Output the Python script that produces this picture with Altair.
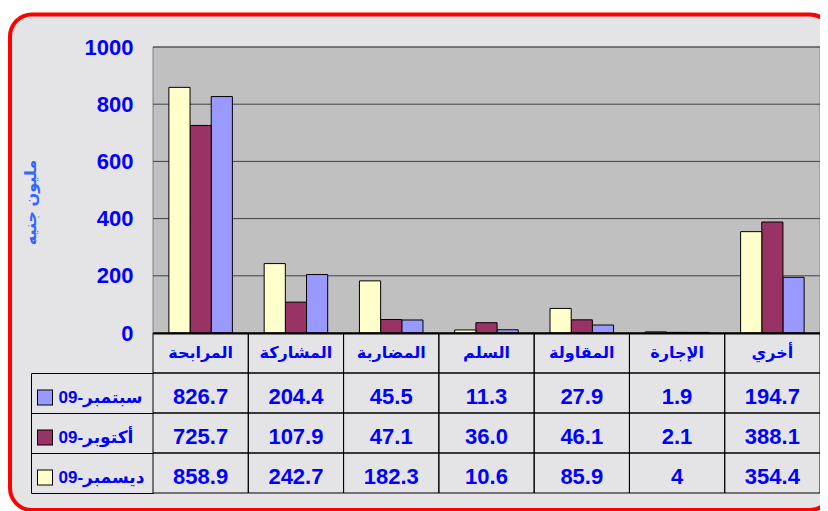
import altair as alt
import pandas as pd

# ---------------- data ----------------
categories = ["المرابحة", "المشاركة", "المضاربة", "السلم", "المقاولة", "الإجارة", "أخري"]
series_names = ["سبتمبر-09", "أكتوبر-09", "ديسمبر-09"]
sep_values = [826.7, 204.4, 45.5, 11.3, 27.9, 1.9, 194.7]
oct_values = [725.7, 107.9, 47.1, 36.0, 46.1, 2.1, 388.1]
dec_values = [858.9, 242.7, 182.3, 10.6, 85.9, 4, 354.4]
series_values = [sep_values, oct_values, dec_values]
series_colors = ["#9999FF", "#993366", "#FFFFCC"]
bar_order = ["ديسمبر-09", "أكتوبر-09", "سبتمبر-09"]
y_ticks = [0, 200, 400, 600, 800, 1000]
y_title = "مليون جنيه"

# ---------------- layout / style ----------------
PW, PH = 667, 286
TH = 160
NROWS = len(series_names) + 1
ROW_H = TH / NROWS
HEADER_W = 122
FONT = "Liberation Sans, Arial, DejaVu Sans"
BLUE = "#0000FF"
MARBLE = "#E4E4E6"
ORIGIN_X, ORIGIN_Y = 145, 39          # plot origin inside the svg
SVG_W, SVG_H = 812, 503

bar_rows = []
for s, vals in zip(series_names, series_values):
    for c, v in zip(categories, vals):
        bar_rows.append({"cat": c, "series": s, "value": v})
bar_df = pd.DataFrame(bar_rows)

color_scale = alt.Scale(domain=series_names, range=series_colors)
y_scale = alt.Scale(domain=[y_ticks[0], y_ticks[-1]], nice=False)
y_axis = alt.Axis(values=y_ticks, format="d", labelFont=FONT, labelFontSize=22,
                  labelFontWeight="bold", labelColor=BLUE, labelPadding=20,
                  ticks=False, domain=False, grid=False, zindex=1,
                  title=y_title, titleFont=FONT, titleFontSize=16,
                  titleFontWeight="bold", titleColor="#3366FF", titleAngle=270,
                  titleX=-122.5, titleY=155, titleAlign="center",
                  titleBaseline="middle")

# decorative rounded red frame (marble filled)
frame = alt.Chart(pd.DataFrame({"k": [0]})).mark_rect(
    fill=MARBLE, stroke="#FF0000", strokeWidth=4, cornerRadius=22
).encode(x=alt.value(-143), x2=alt.value(PW + 12), y=alt.value(-32.5), y2=alt.value(463))

# grey plot area
plot_bg = alt.Chart(pd.DataFrame({"lo": [y_ticks[0]], "hi": [y_ticks[-1]]})).mark_rect(
    fill="#C0C0C0", stroke="#808080", strokeWidth=1
).encode(x=alt.value(0), x2=alt.value(PW),
         y=alt.Y("lo:Q", scale=y_scale, axis=y_axis), y2="hi:Q")

grid = alt.Chart(pd.DataFrame({"t": y_ticks[1:]})).mark_rule(
    color="#404040", strokeWidth=1
).encode(y=alt.Y("t:Q", scale=y_scale, axis=y_axis))

bars = alt.Chart(bar_df).mark_bar(stroke="black", strokeWidth=1).encode(
    x=alt.X("cat:N", sort=categories,
            scale=alt.Scale(paddingInner=1 / 3, paddingOuter=1 / 6),
            axis=alt.Axis(labels=False, ticks=False, title=None, domainColor="black",
                          domainWidth=2, grid=False, zindex=1)),
    xOffset=alt.XOffset("series:N", sort=bar_order,
                        scale=alt.Scale(paddingInner=0, paddingOuter=0)),
    y=alt.Y("value:Q", scale=y_scale, axis=y_axis),
    color=alt.Color("series:N", scale=color_scale, legend=None),
)

top = alt.layer(frame, plot_bg, grid, bars).properties(width=PW, height=PH)

# ---------------- data table ----------------
cell_rows = []
for c in categories:
    cell_rows.append({"cat": c, "lo": 0, "hi": 1, "mid": 0.5, "text": c, "kind": "cat"})
for i, (s, vals) in enumerate(zip(series_names, series_values)):
    for c, v in zip(categories, vals):
        cell_rows.append({"cat": c, "lo": i + 1, "hi": i + 2, "mid": i + 1.5,
                          "text": str(v), "kind": "val"})
table_df = pd.DataFrame(cell_rows)

yscale = alt.Scale(domain=[0, NROWS], reverse=True, nice=False, zero=False)
xscale_t = alt.Scale(paddingInner=0, paddingOuter=0)

name_vals = [i + 1.5 for i in range(len(series_names))]
label_expr = "'" + series_names[-1] + "'"
for i in reversed(range(len(series_names) - 1)):
    label_expr = f"(datum.value < {i + 2} ? '{series_names[i]}' : {label_expr})"
tick_cond = {
    "condition": [{"test": f"datum.value < {i + 2}", "value": series_colors[i]}
                  for i in range(len(series_names) - 1)],
    "value": series_colors[-1],
}

cells = alt.Chart(table_df).mark_rect(fill="transparent", stroke="black", strokeWidth=1).encode(
    x=alt.X("cat:N", sort=categories, scale=xscale_t,
            axis=alt.Axis(orient="bottom", values=[categories[0]], bandPosition=0,
                          tickOffset=-HEADER_W, offset=-(TH - ROW_H), tickSize=TH - ROW_H,
                          tickColor="black", tickWidth=1, labels=False, domain=False,
                          grid=False, title=None)),
    y=alt.Y("lo:Q", scale=yscale,
            axis=alt.Axis(orient="left", values=list(range(1, NROWS + 1)),
                          tickSize=HEADER_W, tickColor="black", tickWidth=1,
                          labels=False, domain=False, grid=False, title=None)),
    y2="hi:Q",
)

cat_text = alt.Chart(table_df).transform_filter("datum.kind == 'cat'").mark_text(
    font=FONT, fontSize=16, fontWeight="bold", color=BLUE, dy=0
).encode(
    x=alt.X("cat:N", sort=categories, scale=xscale_t, axis=None),
    y=alt.Y("mid:Q", scale=yscale,
            axis=alt.Axis(orient="left", values=name_vals, offset=100.5, tickSize=16,
                          tickWidth=16, tickColor="black", tickOffset=4, labels=False,
                          domain=False, grid=False, title=None, zindex=1)),
    text="text:N",
)

val_text = alt.Chart(table_df).transform_filter("datum.kind == 'val'").mark_text(
    font=FONT, fontSize=22, fontWeight="bold", color=BLUE, dy=4
).encode(
    x=alt.X("cat:N", sort=categories, scale=xscale_t, axis=None),
    y=alt.Y("mid:Q", scale=yscale,
            axis=alt.Axis(orient="left", values=name_vals, offset=101.5, tickSize=14,
                          tickWidth=14, tickColor=tick_cond, tickOffset=4,
                          labelExpr=label_expr, labelAlign="left", labelBaseline="middle",
                          labelPadding=-20.5, labelFont=FONT, labelFontSize=17,
                          labelFontWeight="bold", labelColor=BLUE, labelFlush=False,
                          labelOverlap=False, domain=False, grid=False, title=None,
                          zindex=2)),
    text="text:N",
)

bottom = alt.layer(cells, cat_text, val_text).resolve_axis(
    x="independent", y="independent"
).properties(width=PW, height=TH)

chart = alt.vconcat(top, bottom, spacing=0, bounds="flush").properties(
    autosize=alt.AutoSizeParams(type="none"),
    padding={"left": ORIGIN_X, "top": ORIGIN_Y,
             "right": SVG_W - ORIGIN_X - PW, "bottom": SVG_H - ORIGIN_Y},
    background="white",
).configure_view(strokeWidth=0)

chart.save("out.html", embed_options={"renderer": "svg", "actions": False})
